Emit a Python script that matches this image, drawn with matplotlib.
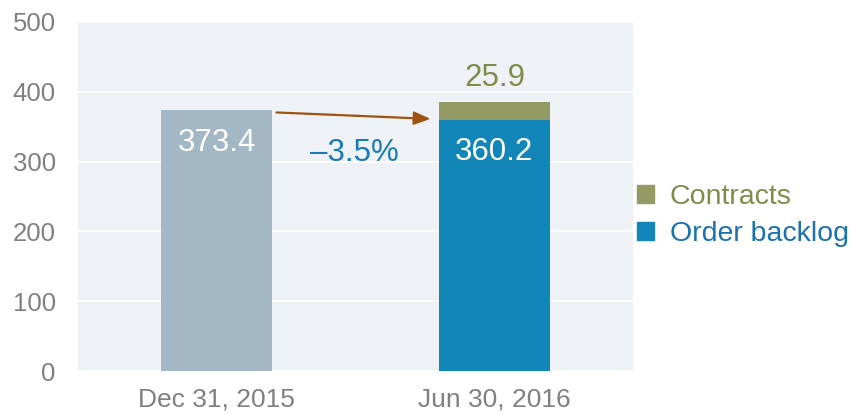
import matplotlib.pyplot as plt
from matplotlib.patches import Patch

categories = ["Dec 31, 2015", "Jun 30, 2016"]
order_backlog = [373.4, 360.2]
contracts = [0.0, 25.9]
change_label = "\u20133.5%"
yticks = [0, 100, 200, 300, 400, 500]

BG = "#eef2f7"
GREY_BAR = "#a3b7c5"
BLUE = "#1286b8"
OLIVE = "#949a64"
OLIVE_TXT = "#7f8c4a"
ARROW = "#a0520f"
TICK = "#808080"

plt.rcParams["font.family"] = ["Liberation Sans", "DejaVu Sans"]

fig = plt.figure(figsize=(8.53, 4.15), dpi=100)
ax = fig.add_axes([0.0914, 0.106, 0.651, 0.841])
ax.set_facecolor(BG)

x = list(range(len(categories)))
ax.bar(x, order_backlog, width=0.4, color=[GREY_BAR, BLUE], zorder=2)
ax.bar(x, contracts, width=0.4, bottom=order_backlog, color=OLIVE, zorder=2)

ax.set_xlim(-0.5, 1.5)
ax.set_ylim(0, 500)
ax.set_yticks(yticks)
ax.set_xticks(x)
ax.set_xticklabels(categories)
ax.grid(axis="y", color="white", linewidth=1.2, zorder=1)
ax.tick_params(axis="y", length=0, pad=16, labelsize=18.5, labelcolor=TICK)
ax.tick_params(axis="x", length=0, pad=12, labelsize=19, labelcolor=TICK)
for s in ax.spines.values():
    s.set_visible(False)

# value labels
ax.text(0, order_backlog[0] - 47, f"{order_backlog[0]:.1f}", ha="center", va="center",
        color="white", fontsize=22.5)
ax.text(1, order_backlog[1] - 46, f"{order_backlog[1]:.1f}", ha="center", va="center",
        color="white", fontsize=22.5)
ax.text(1, order_backlog[1] + contracts[1] + 33, f"{contracts[1]:.1f}", ha="center",
        va="center", color=OLIVE_TXT, fontsize=22.5)

# change arrow
ax.annotate("", xy=(0.77, order_backlog[1] + 1), xytext=(0.215, order_backlog[0] - 3),
            arrowprops=dict(arrowstyle="-|>,head_length=1.0,head_width=0.4",
                            color=ARROW, lw=1.6, shrinkA=0, shrinkB=0), zorder=3)
ax.text(0.495, 313, change_label, ha="center", va="center", color="#1a7ab5", fontsize=22.5)

handles = [Patch(color=OLIVE), Patch(color=BLUE)]
leg = fig.legend(handles, ["Contracts", "Order backlog"], loc="center left",
                 bbox_to_anchor=(0.717, 0.48), frameon=False, fontsize=20.5,
                 handlelength=0.6, handleheight=0.6, handletextpad=0.55,
                 labelspacing=0.4)
leg.get_texts()[0].set_color(OLIVE_TXT)
leg.get_texts()[1].set_color("#1a72b0")

fig.savefig("out.png", dpi=100)
